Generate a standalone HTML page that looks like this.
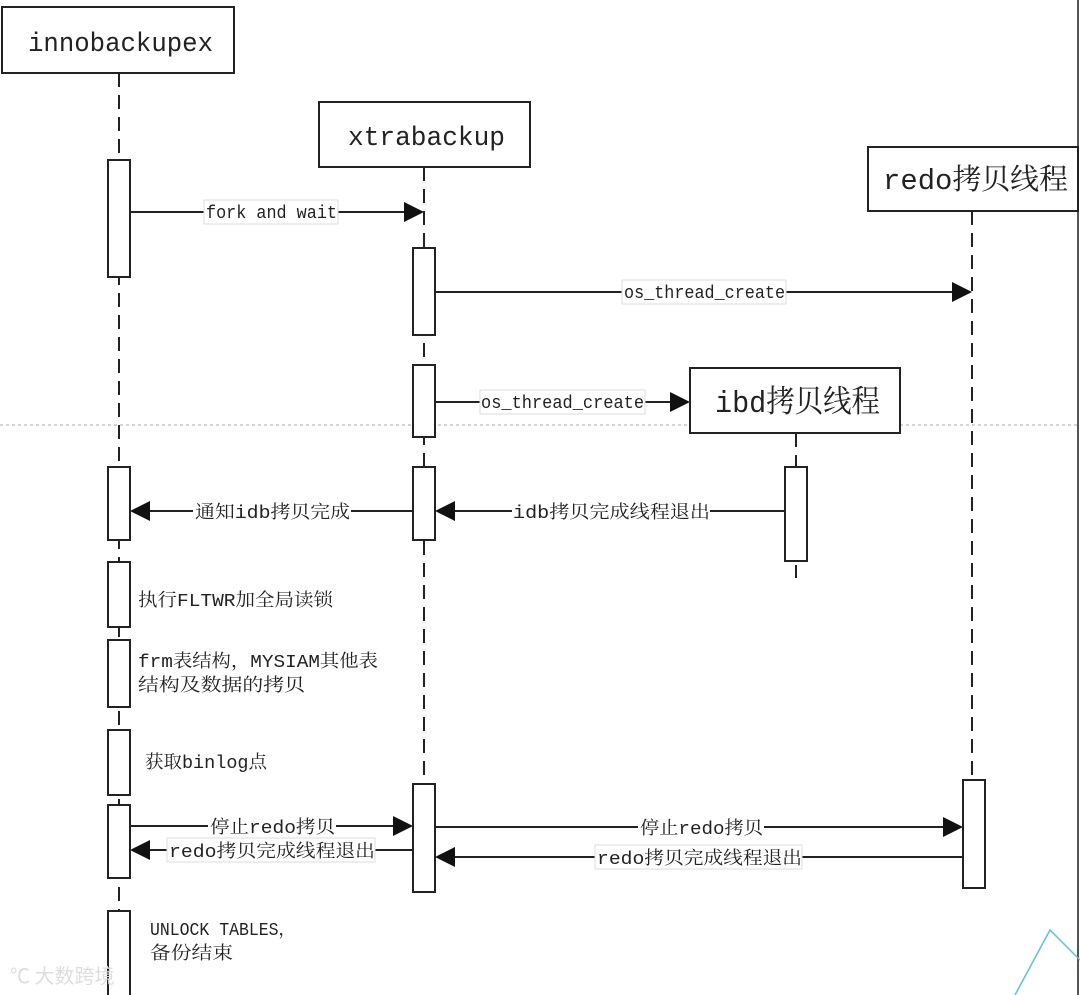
<!DOCTYPE html>
<html><head><meta charset="utf-8"><style>
html,body{margin:0;padding:0;background:#fff}
svg{display:block}
text{font-family:"Liberation Mono","Noto Serif CJK SC",monospace;fill:#222}
.l{stroke:#222;stroke-width:2;stroke-dasharray:14,8;fill:none}
.a{fill:#fff;stroke:#222;stroke-width:2}
.m{stroke:#222;stroke-width:2;fill:none}
.lb{font-size:18px}
.bg{fill:#fff;stroke:#ddd;stroke-width:1}
</style></head><body>
<svg width="1080" height="995" viewBox="0 0 1080 995" xmlns="http://www.w3.org/2000/svg">
<line x1="0" y1="425" x2="1080" y2="425" stroke="#aaa" stroke-width="1" stroke-dasharray="3,3"/>
<line x1="1078" y1="0" x2="1078" y2="995" stroke="#555" stroke-width="2"/>
<line class="l" x1="119" y1="73" x2="119" y2="990"/>
<line class="l" x1="424" y1="167" x2="424" y2="784"/>
<line class="l" x1="972" y1="211" x2="972" y2="780"/>
<line class="l" x1="796" y1="433" x2="796" y2="578"/>
<rect class="a" x="2" y="7" width="232" height="66"/>
<text x="28" y="51" font-size="27" textLength="185" lengthAdjust="spacingAndGlyphs">innobackupex</text>
<rect class="a" x="319" y="102" width="211" height="65"/>
<text x="348" y="145" font-size="27" textLength="157" lengthAdjust="spacingAndGlyphs">xtrabackup</text>
<rect class="a" x="868" y="147" width="210" height="64"/>
<text x="883" y="189" font-size="29" textLength="185" lengthAdjust="spacingAndGlyphs">redo拷贝线程</text>
<rect class="a" x="690" y="368" width="210" height="65"/>
<text x="715" y="412" font-size="31" textLength="165" lengthAdjust="spacingAndGlyphs">ibd拷贝线程</text>
<rect class="a" x="108" y="160" width="22" height="117"/>
<rect class="a" x="108" y="467" width="22" height="73"/>
<rect class="a" x="108" y="562" width="22" height="65"/>
<rect class="a" x="108" y="640" width="22" height="67"/>
<rect class="a" x="108" y="730" width="22" height="65"/>
<rect class="a" x="108" y="805" width="22" height="73"/>
<rect class="a" x="108" y="911" width="22" height="90"/>
<rect class="a" x="413" y="248" width="22" height="87"/>
<rect class="a" x="413" y="365" width="22" height="72"/>
<rect class="a" x="413" y="467" width="22" height="73"/>
<rect class="a" x="413" y="784" width="22" height="108"/>
<rect class="a" x="785" y="467" width="22" height="94"/>
<rect class="a" x="963" y="780" width="22" height="108"/>
<line class="m" x1="130" y1="212" x2="406" y2="212"/><polygon points="404,202 424,212 404,222" fill="#111"/>
<rect class="bg" x="204" y="200" width="134" height="24"/><text class="lb" x="206" y="218" textLength="131" lengthAdjust="spacingAndGlyphs">fork and wait</text>
<line class="m" x1="435" y1="292" x2="954" y2="292"/><polygon points="952,282 972,292 952,302" fill="#111"/>
<rect class="bg" x="622" y="280" width="164" height="24"/><text class="lb" x="624" y="298" textLength="161" lengthAdjust="spacingAndGlyphs">os_thread_create</text>
<line class="m" x1="435" y1="402" x2="672" y2="402"/><polygon points="670,392 690,402 670,412" fill="#111"/>
<rect class="bg" x="480" y="390" width="165" height="24"/><text class="lb" x="481" y="408" textLength="163" lengthAdjust="spacingAndGlyphs">os_thread_create</text>
<line class="m" x1="148" y1="511" x2="413" y2="511"/><polygon points="150,501 130,511 150,521" fill="#111"/>
<rect fill="#fff" x="193" y="498" width="158" height="26"/><text class="lb" x="195" y="518" textLength="155" lengthAdjust="spacingAndGlyphs">通知idb拷贝完成</text>
<line class="m" x1="453" y1="511" x2="785" y2="511"/><polygon points="455,501 435,511 455,521" fill="#111"/>
<rect fill="#fff" x="512" y="498" width="198" height="26"/><text class="lb" x="513" y="518" textLength="197" lengthAdjust="spacingAndGlyphs">idb拷贝完成线程退出</text>
<line class="m" x1="130" y1="826" x2="395" y2="826"/><polygon points="393,816 413,826 393,836" fill="#111"/>
<rect fill="#fff" x="208" y="814" width="128" height="24"/><text class="lb" x="210" y="833" textLength="125" lengthAdjust="spacingAndGlyphs">停止redo拷贝</text>
<line class="m" x1="148" y1="850" x2="413" y2="850"/><polygon points="150,840 130,850 150,860" fill="#111"/>
<rect class="bg" x="167" y="838" width="208" height="24"/><text class="lb" x="169" y="857" textLength="206" lengthAdjust="spacingAndGlyphs">redo拷贝完成线程退出</text>
<line class="m" x1="435" y1="827" x2="945" y2="827"/><polygon points="943,817 963,827 943,837" fill="#111"/>
<rect fill="#fff" x="638" y="815" width="126" height="24"/><text class="lb" x="640" y="834" textLength="123" lengthAdjust="spacingAndGlyphs">停止redo拷贝</text>
<line class="m" x1="453" y1="857" x2="963" y2="857"/><polygon points="455,847 435,857 455,867" fill="#111"/>
<rect class="bg" x="595" y="845" width="207" height="24"/><text class="lb" x="597" y="864" textLength="205" lengthAdjust="spacingAndGlyphs">redo拷贝完成线程退出</text>
<text class="lb" x="138" y="606" textLength="195" lengthAdjust="spacingAndGlyphs">执行FLTWR加全局读锁</text>
<text class="lb" x="138" y="667" textLength="240" lengthAdjust="spacingAndGlyphs">frm表结构，MYSIAM其他表</text>
<text class="lb" x="138" y="691" textLength="167" lengthAdjust="spacingAndGlyphs">结构及数据的拷贝</text>
<text class="lb" x="145" y="768" textLength="122" lengthAdjust="spacingAndGlyphs">获取binlog点</text>
<text class="lb" x="150" y="935" textLength="145" lengthAdjust="spacingAndGlyphs">UNLOCK TABLES，</text>
<text class="lb" x="150" y="959" textLength="83" lengthAdjust="spacingAndGlyphs">备份结束</text>
<text x="10" y="983" font-size="20" style="fill:#ddd;font-family:'Noto Sans CJK SC',sans-serif">℃ 大数跨境</text>
<polyline points="1015,995 1050,930 1080,960" fill="none" stroke="#5bc0eb" stroke-width="1.5"/>
</svg>
</body></html>
